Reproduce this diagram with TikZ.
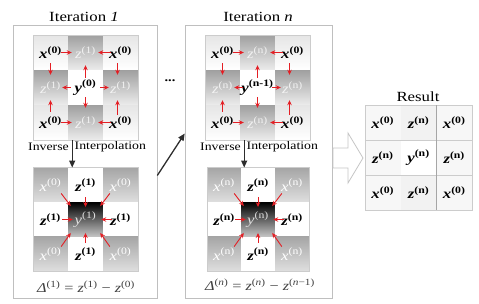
\documentclass[tikz,border=0pt]{standalone}
\usepackage{fontspec}
\setmainfont{Liberation Serif}[FakeStretch=1.2]
\usetikzlibrary{arrows.meta}

\definecolor{arrowred}{RGB}{228,30,36}
\definecolor{arrowgray}{RGB}{45,45,45}

\newcommand{\bvar}[2]{\textbf{\textit{#1}}\textsuperscript{\textbf{(#2)}}}
\newcommand{\lvar}[2]{\textit{#1}\textsuperscript{(#2)}}

\tikzset{
  panel/.style={draw=gray!50, fill=white, line width=0.6pt, inner sep=0pt},
  cell/.style={minimum width=35pt, minimum height=35pt, inner sep=0pt,
    font=\fontsize{14}{16}\selectfont},
  lite/.style={cell, top color=gray!20, bottom color=white},
  dark/.style={cell, top color=gray!75, bottom color=gray!15, text=white!90!gray},
  blank/.style={cell, fill=white},
  core/.style={cell, top color=black, bottom color=gray!45, text=gray!25},
  shade/.style={cell, top color=gray!70, bottom color=gray!25, text=white},
  res/.style={cell, minimum width=35.7pt, fill=gray!6},
  redarr/.style={draw=arrowred, line width=0.9pt, -{Stealth[length=5pt,width=4.5pt]}},
  darkarr/.style={draw=arrowgray, line width=1.3pt, -{Triangle[length=7pt,width=6pt]}},
  title/.style={font=\fontsize{14}{16}\selectfont},
  small/.style={font=\fontsize{11.5}{13}\selectfont, inner sep=0pt},
}

\begin{document}
\begin{tikzpicture}[x=1pt,y=-1pt]
  \useasboundingbox (0,0) rectangle (479,303);

  % panels
  \node[panel, minimum width=144pt, minimum height=273pt] (p1) at (85,161.5) {};
  \node[panel, minimum width=147pt, minimum height=273pt] (p2) at (258.5,161.5) {};
  \node[title] (t1) at (84,17) {Iteration \textit{1}};
  \node[title] (t2) at (258,17) {Iteration \textit{n}};
  \node[title] (t3) at (418,97) {Result};

  % iteration 1, upper grid
  \node[lite] (a11) at (50.5,52.5) {\bvar{x}{0}};
  \node[dark] (a12) at (85.5,52.5) {\lvar{z}{1}};
  \node[lite] (a13) at (120.5,52.5) {\bvar{x}{0}};
  \node[dark] (a21) at (50.5,87.5) {\lvar{z}{1}};
  \node[blank] (a22) at (85.5,87.5) {\bvar{y}{0}};
  \node[dark] (a23) at (120.5,87.5) {\lvar{z}{1}};
  \node[lite] (a31) at (50.5,122.5) {\bvar{x}{0}};
  \node[dark] (a32) at (85.5,122.5) {\lvar{z}{1}};
  \node[lite] (a33) at (120.5,122.5) {\bvar{x}{0}};
  \draw[gray!40] (a11.north west) rectangle (a33.south east);

  % iteration 1, lower grid
  \node[shade, minimum height=34.5pt] (b11) at (50.5,185) {\lvar{x}{0}};
  \node[blank, minimum height=34.5pt] (b12) at (85.5,185) {\bvar{z}{1}};
  \node[shade, minimum height=34.5pt] (b13) at (120.5,185) {\lvar{x}{0}};
  \node[blank, minimum height=34.5pt] (b21) at (50.5,219.5) {\bvar{z}{1}};
  \node[core, minimum height=34.5pt] (b22) at (85.5,219.5) {\lvar{y}{1}};
  \node[blank, minimum height=34.5pt] (b23) at (120.5,219.5) {\bvar{z}{1}};
  \node[shade, minimum height=34.5pt] (b31) at (50.5,254) {\lvar{x}{0}};
  \node[blank, minimum height=34.5pt] (b32) at (85.5,254) {\bvar{z}{1}};
  \node[shade, minimum height=34.5pt] (b33) at (120.5,254) {\lvar{x}{0}};
  \draw[gray!40] (b11.north west) rectangle (b33.south east);

  % iteration n, upper grid
  \node[lite] (c11) at (222.5,52.5) {\bvar{x}{0}};
  \node[dark] (c12) at (257.5,52.5) {\lvar{z}{n}};
  \node[lite] (c13) at (292.5,52.5) {\bvar{x}{0}};
  \node[dark] (c21) at (222.5,87.5) {\lvar{z}{n}};
  \node[blank] (c22) at (257.5,87.5) {\bvar{y}{n-1}};
  \node[dark] (c23) at (292.5,87.5) {\lvar{z}{n}};
  \node[lite] (c31) at (222.5,122.5) {\bvar{x}{0}};
  \node[dark] (c32) at (257.5,122.5) {\lvar{z}{n}};
  \node[lite] (c33) at (292.5,122.5) {\bvar{x}{0}};
  \draw[gray!40] (c11.north west) rectangle (c33.south east);

  % iteration n, lower grid
  \node[shade, minimum width=34pt, minimum height=34.5pt] (d11) at (224,185) {\lvar{x}{n}};
  \node[blank, minimum width=34pt, minimum height=34.5pt] (d12) at (258,185) {\bvar{z}{n}};
  \node[shade, minimum width=34pt, minimum height=34.5pt] (d13) at (292,185) {\lvar{x}{n}};
  \node[blank, minimum width=34pt, minimum height=34.5pt] (d21) at (224,219.5) {\bvar{z}{n}};
  \node[core, minimum width=34pt, minimum height=34.5pt] (d22) at (258,219.5) {\lvar{y}{n}};
  \node[blank, minimum width=34pt, minimum height=34.5pt] (d23) at (292,219.5) {\bvar{z}{n}};
  \node[shade, minimum width=34pt, minimum height=34.5pt] (d31) at (224,254) {\lvar{x}{n}};
  \node[blank, minimum width=34pt, minimum height=34.5pt] (d32) at (258,254) {\bvar{z}{n}};
  \node[shade, minimum width=34pt, minimum height=34.5pt] (d33) at (292,254) {\lvar{x}{n}};
  \draw[gray!40] (d11.north west) rectangle (d33.south east);

  % red arrows, upper grids
  \foreach \g in {a,c} {
    \draw[redarr] ([xshift=-7pt]\g11.east) -- ([xshift=4pt]\g12.west);
    \draw[redarr] ([xshift=8pt]\g13.west) -- ([xshift=-5pt]\g12.east);
    \draw[redarr] ([yshift=7pt]\g11.south) -- ([yshift=-5pt]\g21.north);
    \draw[redarr] ([shift={(-3pt,7pt)}]\g13.south) -- ([shift={(-3pt,-5pt)}]\g23.north);
    \draw[redarr] ([yshift=-8pt]\g22.north) -- ([yshift=5pt]\g12.south);
    \draw[redarr] ([xshift=3pt]\g22.west) -- ([xshift=-6pt]\g21.east);
    \draw[redarr] ([xshift=-3pt]\g22.east) -- ([xshift=6pt]\g23.west);
    \draw[redarr] ([yshift=8pt]\g22.south) -- ([yshift=-3pt]\g32.north);
    \draw[redarr] ([yshift=-7pt]\g31.north) -- ([yshift=5pt]\g21.south);
    \draw[redarr] ([shift={(-3pt,-10pt)}]\g33.north) -- ([shift={(-3pt,5pt)}]\g23.south);
    \draw[redarr] ([xshift=-7pt]\g31.east) -- ([xshift=4pt]\g32.west);
    \draw[redarr] ([xshift=8pt]\g33.west) -- ([xshift=-5pt]\g32.east);
  }

  % red arrows, lower grids
  \foreach \g in {b,d} {
    \draw[redarr] ([yshift=5pt]\g12.south) -- ([yshift=-5pt]\g22.north);
    \draw[redarr] ([yshift=-6pt]\g32.north) -- ([yshift=4pt]\g22.south);
    \draw[redarr] ([xshift=-6pt]\g21.east) -- ([xshift=5pt]\g22.west);
    \draw[redarr] ([xshift=9pt]\g23.west) -- ([xshift=-2pt]\g22.east);
    \draw[redarr] ([shift={(-7pt,9pt)}]\g11.south east) -- ([shift={(3pt,-4pt)}]\g22.north west);
    \draw[redarr] ([shift={(7pt,9pt)}]\g13.south west) -- ([shift={(-3pt,-4pt)}]\g22.north east);
    \draw[redarr] ([shift={(-7pt,-10pt)}]\g31.north east) -- ([shift={(3pt,4pt)}]\g22.south west);
    \draw[redarr] ([shift={(7pt,-10pt)}]\g33.north west) -- ([shift={(-3pt,4pt)}]\g22.south east);
  }

  % inverse interpolation
  \node[small, anchor=east] (i1) at (69,147) {Inverse};
  \node[small, anchor=west] (i2) at (74.5,147) {Interpolation};
  \node[small, anchor=east] (i3) at (241,147) {Inverse};
  \node[small, anchor=west] (i4) at (246.5,147) {Interpolation};
  \draw[darkarr] ([xshift=4pt]a31.south east) -- ([xshift=4pt]b11.north east);
  \draw[darkarr] ([xshift=4pt]c31.south east) -- ([xshift=3pt]d11.north east);

  % differences
  \node[font=\fontsize{13.5}{15}\selectfont, text=black!75] (f1) at (86,287)
    {\textit{Δ}\textsuperscript{(1)} = \textit{z}\textsuperscript{(1)} − \textit{z}\textsuperscript{(0)}};
  \node[font=\fontsize{13.5}{15}\selectfont, text=black!75] (f2) at (260,285)
    {\textit{Δ}\textsuperscript{(\textit{n})} = \textit{z}\textsuperscript{(\textit{n})} − \textit{z}\textsuperscript{(\textit{n}−1)}};

  % between the panels
  \node[font=\bfseries\fontsize{12}{14}\selectfont, anchor=base] (dots) at (170,81) {...};
  \draw[darkarr] ([yshift=-14pt]p1.east) -- ([yshift=28pt]p2.west);
  \draw[gray!45, line width=0.8pt, fill=white] (333,148) -- (348,148) -- (348,133)
    -- (363,158) -- (348,183) -- (348,168) -- (333,168) -- cycle;

  % result
  \node[res] (r11) at (382.8,122.5) {\bvar{x}{0}};
  \node[res, fill=gray!10] (r12) at (418.5,122.5) {\bvar{z}{n}};
  \node[res] (r13) at (454.2,122.5) {\bvar{x}{0}};
  \node[res] (r21) at (382.8,157.5) {\bvar{z}{n}};
  \node[res, fill=white] (r22) at (418.5,157.5) {\bvar{y}{n}};
  \node[res] (r23) at (454.2,157.5) {\bvar{z}{n}};
  \node[res] (r31) at (382.8,192.5) {\bvar{x}{0}};
  \node[res, fill=gray!10] (r32) at (418.5,192.5) {\bvar{z}{n}};
  \node[res] (r33) at (454.2,192.5) {\bvar{x}{0}};
  \draw[gray!40] (r11.north west) rectangle (r33.south east);
  \draw[gray!40] (r11.south west) -- (r13.south east);
  \draw[gray!40] (r21.south west) -- (r23.south east);
  \draw[gray!70] (r13.north west) -- (r33.south west);
\end{tikzpicture}
\end{document}
